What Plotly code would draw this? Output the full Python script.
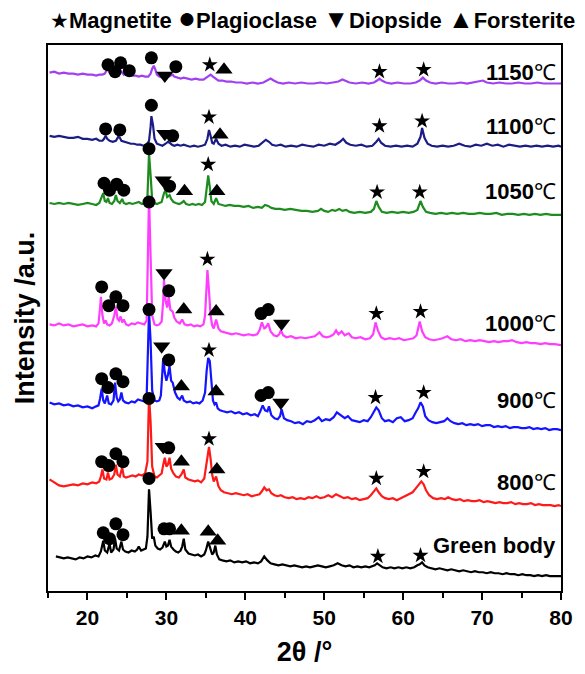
import plotly.graph_objects as go

# ---------------- data (2theta in degrees, relative intensity in a.u.) ----------------
samples = ["Green body", "800", "900", "1000", "1050", "1100", "1150"]
offsets = [14, 85, 162, 248, 380, 449, 513]          # stacking offsets (a.u.)
label_heights = [31, 24, 30, 22, 24, 20, 11]         # label height above offset
colors = ["#000000", "#FF1A1A", "#1414FF", "#FF3DFF", "#1E8C1E", "#1C1C85", "#A040F0"]

xrd_green_body = [(16.0,20),(16.5,19),(17.0,18),(17.5,19),(18.0,18),(18.5,17),(19.0,19),(19.5,18),(20.0,20),(20.5,19),(21.0,21),(21.4,20),(21.7,25),(22.0,36),(22.2,26),(22.5,24),(22.8,33),(23.0,24),(23.3,27),(23.5,38),(23.7,28),(24.0,26),(24.3,35),(24.5,27),(24.8,25),(25.2,24),(25.6,26),(26.0,25),(26.3,27),(26.5,30),(26.8,26),(27.1,27),(27.4,28),(27.6,40),(27.8,88),(28.0,65),(28.2,38),(28.4,40),(28.6,31),(28.9,28),(29.2,27),(29.5,29),(29.8,35),(30.0,30),(30.2,31),(30.4,37),(30.6,30),(30.9,27),(31.2,25),(31.5,24),(31.8,26),(32.0,30),(32.2,38),(32.4,27),(32.8,23),(33.2,22),(33.6,21),(34.0,22),(34.4,20),(34.8,22),(35.0,26),(35.3,35),(35.5,30),(35.8,22),(36.0,24),(36.2,31),(36.4,22),(36.7,17),(37.1,16),(37.6,15),(38.1,16),(38.6,14),(39.1,15),(39.6,14),(40.1,15),(40.6,13),(41.1,14),(41.6,13),(42.0,15),(42.4,20),(42.8,16),(43.2,13),(43.7,12),(44.2,11),(44.7,12),(45.2,11),(45.7,10),(46.2,11),(46.7,10),(47.2,9),(47.7,10),(48.2,9),(48.7,10),(49.2,11),(49.7,10),(50.2,9),(50.7,10),(51.2,11),(51.7,13),(52.2,11),(52.7,10),(53.2,11),(53.7,9),(54.2,10),(54.7,9),(55.2,10),(55.7,9),(56.1,10),(56.4,11),(56.7,13),(57.0,11),(57.4,9),(57.9,8),(58.4,9),(58.9,8),(59.4,9),(59.9,8),(60.4,9),(60.9,8),(61.4,9),(61.8,11),(62.1,12),(62.4,14),(62.7,11),(63.1,9),(63.6,8),(64.1,7),(64.6,8),(65.1,7),(65.6,6),(66.1,7),(66.6,6),(67.1,5),(67.6,6),(68.1,5),(68.6,4),(69.1,5),(69.6,4),(70.1,4),(70.6,3),(71.1,4),(71.6,3),(72.1,3),(72.6,2),(73.1,3),(73.6,2),(74.1,2),(74.6,1),(75.1,2),(75.6,1),(76.1,1),(76.6,0),(77.1,1),(77.6,0),(78.1,1),(78.6,0),(79.1,0),(79.6,0),(80.0,0)]

xrd_800 = [(15.2,27),(15.6,25),(16.0,23),(16.4,21),(17.0,20),(17.6,21),(18.2,22),(18.8,21),(19.4,23),(20.0,22),(20.6,24),(21.1,23),(21.5,25),(21.7,30),(21.9,37),(22.1,28),(22.4,27),(22.6,34),(22.8,27),(23.1,28),(23.4,32),(23.6,42),(23.8,32),(24.1,30),(24.4,39),(24.6,30),(24.9,29),(25.3,30),(25.7,31),(26.1,30),(26.5,32),(26.9,31),(27.3,33),(27.6,45),(27.8,112),(28.0,85),(28.2,40),(28.5,30),(28.8,29),(29.1,31),(29.4,33),(29.6,42),(29.8,49),(30.0,40),(30.2,42),(30.4,49),(30.6,38),(30.9,33),(31.2,30),(31.6,29),(31.9,32),(32.2,37),(32.4,29),(32.8,27),(33.2,26),(33.6,25),(34.0,26),(34.4,24),(34.8,28),(35.0,38),(35.2,52),(35.4,60),(35.6,48),(35.8,32),(36.0,25),(36.3,30),(36.6,20),(36.9,16),(37.3,14),(37.8,13),(38.3,12),(38.8,13),(39.3,12),(39.8,11),(40.3,12),(40.8,10),(41.3,11),(41.8,12),(42.1,15),(42.4,19),(42.7,16),(43.0,17),(43.3,13),(43.7,11),(44.1,10),(44.5,11),(45.0,9),(45.5,8),(46.0,9),(46.5,7),(47.0,8),(47.5,7),(48.0,9),(48.5,8),(49.0,10),(49.5,8),(50.0,9),(50.5,11),(51.0,9),(51.5,12),(52.0,10),(52.5,8),(53.0,9),(53.5,7),(54.0,8),(54.5,6),(55.0,7),(55.5,8),(55.9,11),(56.3,15),(56.6,18),(56.9,14),(57.3,10),(57.7,8),(58.2,7),(58.7,8),(59.2,6),(59.7,8),(60.2,10),(60.7,12),(61.2,14),(61.6,18),(62.0,22),(62.3,25),(62.6,22),(62.9,16),(63.3,11),(63.8,8),(64.3,7),(64.8,8),(65.3,7),(65.7,9),(66.2,7),(66.7,6),(67.2,7),(67.7,5),(68.2,6),(68.7,5),(69.2,5),(69.7,6),(70.2,4),(70.7,5),(71.2,4),(71.7,3),(72.2,4),(72.7,3),(73.2,3),(73.7,4),(74.2,2),(74.7,3),(75.2,2),(75.7,2),(76.2,3),(76.7,1),(77.2,2),(77.7,1),(78.2,1),(78.7,1),(79.2,0),(79.7,1),(80.0,0)]

xrd_900 = [(15.2,28),(15.8,26),(16.4,27),(17.0,25),(17.6,26),(18.2,24),(18.8,25),(19.4,23),(20.0,24),(20.6,22),(21.1,24),(21.4,25),(21.6,32),(21.8,42),(22.0,30),(22.2,27),(22.5,35),(22.7,27),(23.0,26),(23.3,30),(23.5,48),(23.7,33),(23.9,29),(24.1,31),(24.3,38),(24.5,30),(24.8,28),(25.2,27),(25.6,29),(26.0,28),(26.4,31),(26.8,30),(27.2,29),(27.5,34),(27.7,100),(27.8,120),(28.0,90),(28.2,40),(28.5,30),(28.8,29),(29.1,30),(29.3,35),(29.5,60),(29.6,73),(29.8,58),(30.0,50),(30.2,56),(30.4,65),(30.6,50),(30.8,48),(31.1,38),(31.4,33),(31.7,31),(32.0,35),(32.2,30),(32.6,28),(33.0,29),(33.4,27),(33.8,28),(34.2,27),(34.6,30),(34.9,38),(35.1,60),(35.3,73),(35.5,70),(35.7,45),(35.9,30),(36.1,26),(36.3,28),(36.5,22),(36.8,20),(37.2,19),(37.7,18),(38.2,19),(38.7,17),(39.2,18),(39.7,16),(40.2,17),(40.7,15),(41.2,16),(41.6,14),(41.9,19),(42.2,25),(42.5,20),(42.8,19),(43.0,24),(43.3,15),(43.7,12),(44.1,11),(44.4,14),(44.6,21),(44.9,12),(45.3,10),(45.8,9),(46.3,7),(46.8,8),(47.3,6),(47.8,9),(48.3,8),(48.8,10),(49.3,13),(49.7,9),(50.2,11),(50.7,10),(51.2,13),(51.6,18),(51.9,16),(52.2,14),(52.6,12),(53.0,14),(53.5,10),(54.0,9),(54.5,8),(55.0,10),(55.5,9),(55.9,13),(56.3,19),(56.6,23),(56.9,20),(57.3,12),(57.7,9),(58.2,10),(58.7,8),(59.2,12),(59.7,13),(60.2,9),(60.7,10),(61.2,12),(61.6,18),(61.9,22),(62.2,28),(62.5,24),(62.8,14),(63.2,10),(63.7,8),(64.2,7),(64.7,8),(65.2,9),(65.6,12),(66.0,9),(66.5,7),(67.0,6),(67.5,7),(68.0,5),(68.5,6),(69.0,5),(69.5,6),(70.0,4),(70.5,5),(71.0,5),(71.5,3),(72.0,4),(72.5,3),(73.0,4),(73.5,2),(74.0,3),(74.5,3),(75.0,2),(75.5,2),(76.0,3),(76.5,1),(77.0,2),(77.5,1),(78.0,2),(78.5,0),(79.0,1),(79.5,1),(80.0,0)]

xrd_1000 = [(15.2,21),(15.8,20),(16.4,22),(17.0,20),(17.6,21),(18.2,19),(18.8,20),(19.4,21),(20.0,19),(20.6,20),(21.1,19),(21.4,22),(21.6,38),(21.7,49),(21.9,30),(22.1,22),(22.3,25),(22.5,21),(22.8,20),(23.1,22),(23.4,30),(23.6,39),(23.8,27),(24.0,25),(24.2,29),(24.4,23),(24.6,26),(24.9,21),(25.2,20),(25.6,22),(26.0,21),(26.4,23),(26.8,22),(27.2,21),(27.5,25),(27.7,90),(27.8,151),(28.0,90),(28.2,30),(28.5,21),(28.8,20),(29.1,21),(29.4,24),(29.6,45),(29.7,66),(29.9,45),(30.1,38),(30.3,49),(30.5,36),(30.8,34),(31.0,28),(31.3,24),(31.7,22),(32.0,26),(32.3,21),(32.7,20),(33.1,21),(33.5,19),(33.9,20),(34.3,19),(34.7,21),(34.9,30),(35.1,60),(35.2,76),(35.4,55),(35.6,30),(35.8,20),(36.0,17),(36.3,26),(36.6,17),(36.9,14),(37.3,13),(37.8,12),(38.3,11),(38.8,12),(39.3,11),(39.8,10),(40.4,11),(41.0,10),(41.5,11),(41.8,15),(42.1,23),(42.4,17),(42.6,18),(42.9,22),(43.2,14),(43.6,10),(44.0,9),(44.3,11),(44.5,15),(44.8,10),(45.2,8),(45.8,9),(46.4,7),(47.0,8),(47.6,7),(48.2,8),(48.8,9),(49.4,13),(49.8,9),(50.3,8),(50.8,9),(51.2,11),(51.5,15),(51.8,11),(52.2,14),(52.6,10),(53.1,12),(53.5,8),(54.0,7),(54.6,8),(55.2,6),(55.8,7),(56.2,11),(56.5,23),(56.8,15),(57.2,8),(57.7,6),(58.3,7),(58.9,6),(59.5,7),(60.1,5),(60.7,6),(61.3,7),(61.7,10),(62.1,24),(62.4,14),(62.8,8),(63.3,6),(63.9,5),(64.5,6),(65.0,7),(65.6,9),(66.1,6),(66.7,5),(67.3,6),(67.9,4),(68.5,5),(69.1,4),(69.7,5),(70.3,4),(70.9,3),(71.5,4),(72.1,3),(72.7,4),(73.3,4),(73.8,5),(74.4,3),(75.0,2),(75.6,3),(76.2,2),(76.8,2),(77.4,1),(78.0,2),(78.6,1),(79.2,1),(80.0,0)]

xrd_1050 = [(15.2,12),(15.8,11),(16.4,12),(17.0,11),(17.6,12),(18.2,11),(18.8,10),(19.4,11),(20.0,12),(20.6,11),(21.1,10),(21.5,12),(21.8,17),(22.0,22),(22.2,14),(22.4,13),(22.6,17),(22.8,12),(23.1,11),(23.4,14),(23.6,20),(23.8,14),(24.1,12),(24.4,16),(24.6,12),(24.9,11),(25.3,12),(25.7,11),(26.1,12),(26.5,13),(26.9,11),(27.3,12),(27.6,18),(27.8,62),(28.0,40),(28.2,15),(28.5,12),(28.8,11),(29.1,12),(29.4,13),(29.7,22),(29.9,25),(30.1,18),(30.4,20),(30.6,16),(30.9,13),(31.2,12),(31.6,11),(31.9,12),(32.2,14),(32.5,11),(32.9,10),(33.3,11),(33.7,10),(34.1,11),(34.5,10),(34.9,13),(35.1,25),(35.3,40),(35.5,28),(35.7,14),(36.0,11),(36.3,17),(36.6,11),(37.0,10),(37.5,9),(38.0,10),(38.6,9),(39.2,9),(39.8,8),(40.4,9),(41.0,7),(41.6,8),(42.1,7),(42.5,10),(42.9,9),(43.3,7),(43.8,6),(44.4,6),(45.0,5),(45.7,6),(46.4,5),(47.1,4),(47.8,4),(48.5,3),(49.2,4),(49.6,6),(50.0,4),(50.5,3),(51.0,5),(51.4,4),(51.9,6),(52.3,4),(52.8,5),(53.2,3),(53.8,2),(54.5,3),(55.2,2),(55.9,3),(56.3,6),(56.6,14),(56.9,8),(57.3,3),(57.9,2),(58.6,3),(59.3,2),(60.0,3),(60.7,2),(61.3,3),(61.8,5),(62.2,14),(62.5,8),(62.9,3),(63.4,2),(64.1,1),(64.8,2),(65.5,1),(66.2,2),(66.9,1),(67.6,2),(68.3,1),(69.0,1),(69.7,2),(70.4,1),(71.1,1),(71.8,2),(72.5,0),(73.2,1),(73.9,1),(74.6,0),(75.3,1),(76.0,0),(76.7,1),(77.4,0),(78.1,1),(78.8,0),(79.5,0),(80.0,0)]

xrd_1100 = [(15.2,11),(15.8,10),(16.4,11),(17.0,10),(17.6,9),(18.2,9),(18.8,10),(19.4,8),(20.0,8),(20.6,7),(21.1,8),(21.5,6),(21.9,6),(22.1,8),(22.3,11),(22.5,8),(22.8,6),(23.2,5),(23.6,6),(23.9,10),(24.1,9),(24.3,6),(24.7,5),(25.1,4),(25.5,3),(25.9,3),(26.3,2),(26.7,2),(27.1,1),(27.5,2),(27.8,6),(28.0,20),(28.1,31),(28.3,22),(28.5,8),(28.8,3),(29.1,2),(29.5,1),(29.9,3),(30.2,5),(30.4,4),(30.7,2),(31.0,1),(31.4,2),(31.8,1),(32.2,2),(32.6,1),(33.0,0),(33.5,1),(34.0,0),(34.5,1),(34.9,2),(35.2,8),(35.4,17),(35.6,11),(35.8,4),(36.0,3),(36.3,8),(36.6,3),(37.0,1),(37.5,2),(38.1,0),(38.7,1),(39.3,0),(39.9,2),(40.5,1),(41.1,0),(41.7,1),(42.2,4),(42.6,7),(43.0,5),(43.4,2),(43.9,1),(44.5,2),(45.1,0),(45.8,1),(46.5,0),(47.2,2),(47.9,1),(48.6,0),(49.3,2),(50.0,1),(50.7,3),(51.4,2),(52.0,5),(52.4,8),(52.8,4),(53.3,2),(54.0,1),(54.7,2),(55.4,0),(56.1,1),(56.6,5),(56.9,8),(57.2,4),(57.7,1),(58.4,0),(59.1,1),(59.8,0),(60.5,1),(61.2,0),(61.8,3),(62.2,10),(62.4,19),(62.7,9),(63.1,3),(63.6,1),(64.3,0),(65.0,1),(65.7,0),(66.4,1),(67.1,3),(67.8,1),(68.5,0),(69.2,2),(69.9,1),(70.6,3),(71.3,1),(72.0,2),(72.7,0),(73.4,2),(74.1,1),(74.8,0),(75.5,1),(76.2,0),(76.9,1),(77.6,0),(78.3,1),(79.0,0),(79.7,1),(80.0,0)]

xrd_1150 = [(15.2,11),(15.8,12),(16.4,10),(17.0,11),(17.6,10),(18.2,10),(18.8,9),(19.4,10),(20.0,9),(20.6,9),(21.1,8),(21.5,9),(21.9,9),(22.2,10),(22.4,13),(22.6,15),(22.8,11),(23.0,10),(23.2,12),(23.4,11),(23.7,12),(23.9,14),(24.1,11),(24.3,12),(24.6,9),(24.8,11),(25.0,12),(25.3,9),(25.7,8),(26.1,8),(26.5,7),(26.9,8),(27.3,7),(27.7,7),(28.0,10),(28.2,15),(28.4,18),(28.6,14),(28.8,9),(29.1,7),(29.5,6),(29.9,6),(30.3,7),(30.6,8),(30.8,9),(31.0,7),(31.4,6),(31.8,5),(32.2,6),(32.7,5),(33.2,4),(33.7,5),(34.2,4),(34.7,4),(35.1,6),(35.4,8),(35.6,9),(35.9,7),(36.2,5),(36.6,3),(37.1,3),(37.6,2),(38.2,2),(38.8,1),(39.5,1),(40.2,0),(40.9,1),(41.6,0),(42.3,1),(42.8,3),(43.2,5),(43.6,3),(44.1,1),(44.8,0),(45.5,1),(46.3,0),(47.1,1),(47.9,0),(48.7,0),(49.5,1),(50.3,0),(51.1,1),(51.8,2),(52.3,4),(52.7,3),(53.2,1),(54.0,0),(54.8,1),(55.6,0),(56.3,1),(56.7,3),(57.0,5),(57.3,3),(57.8,1),(58.5,0),(59.3,1),(60.1,0),(60.9,0),(61.6,1),(62.1,3),(62.5,6),(62.9,3),(63.4,1),(64.1,0),(64.9,1),(65.7,0),(66.5,0),(67.3,1),(68.1,0),(68.9,1),(69.6,2),(70.1,3),(70.6,1),(71.4,0),(72.2,1),(73.0,0),(73.8,0),(74.6,1),(75.4,0),(76.2,0),(77.0,1),(77.8,0),(78.6,0),(79.4,0),(80.0,0)]

patterns = [xrd_green_body, xrd_800, xrd_900, xrd_1000, xrd_1050, xrd_1100, xrd_1150]

# phase identification marks: (phase, 2theta, height above offset)
marks_green_body = [("P",22.0,44),("P",22.8,38),("P",23.6,53),("P",24.5,42),("P",27.8,99),("P",29.7,48),("P",30.4,48),
                    ("F",31.9,46),("F",35.3,45),("F",36.5,36),("M",56.8,20),("M",62.2,21)]
marks_800 = [("P",21.8,45),("P",22.7,41),("P",23.6,53),("P",24.5,45),("P",27.8,109),("D",29.6,60),("P",30.3,59),
             ("F",31.9,45),("M",35.4,68),("F",36.4,37),("M",56.6,28),("M",62.6,35)]
marks_900 = [("P",21.8,52),("P",22.6,43),("P",23.6,57),("P",24.5,49),("P",27.8,122),("D",29.4,85),("P",30.3,71),
             ("F",31.9,44),("M",35.4,81),("F",36.3,39),("P",42.0,35),("P",42.9,38),("D",44.5,28),("M",56.5,33),("M",62.6,38)]
marks_1000 = [("P",21.8,59),("P",22.7,40),("P",23.6,49),("P",24.5,40),("P",27.8,145),("D",29.7,73),("P",30.3,55),
              ("F",32.2,36),("M",35.2,87),("F",36.3,34),("P",42.0,32),("P",42.9,36),("D",44.6,22),("M",56.6,32),("M",62.2,34)]
marks_1050 = [("P",22.1,32),("P",22.8,25),("P",23.7,31),("P",24.6,25),("P",27.8,67),("D",29.6,35),("P",30.4,29),
              ("F",32.3,24),("M",35.3,51),("F",36.4,24),("M",56.7,23),("M",62.1,23)]
marks_1100 = [("P",22.3,18),("P",24.1,17),("P",28.1,42),("D",29.8,13),("P",30.8,11),("M",35.4,30),("F",36.8,12),
              ("M",57.0,21),("M",62.4,26)]
marks_1150 = [("P",22.6,19),("P",23.5,12),("P",24.2,21),("P",25.3,13),("P",28.1,26),("D",29.8,8),("P",31.2,17),
              ("M",35.5,19),("F",37.3,14),("M",57.0,12),("M",62.6,14)]
marks = [marks_green_body, marks_800, marks_900, marks_1000, marks_1050, marks_1100, marks_1150]

phases = {"M": ("Magnetite", "star", 12), "P": ("Plagioclase", "circle", 13),
          "D": ("Diopside", "triangle-down", 15), "F": ("Forsterite", "triangle-up", 15)}

FONT = "Liberation Sans, Arial, sans-serif"

fig = go.Figure()
for name, pat, off, col in zip(samples, patterns, offsets, colors):
    fig.add_trace(go.Scatter(x=[p[0] for p in pat], y=[p[1] + off for p in pat],
                             mode="lines", line=dict(color=col, width=2.2), name=name,
                             showlegend=False, hoverinfo="skip"))

for key, (pname, sym, size) in phases.items():
    xs, ys = [], []
    for mk, off in zip(marks, offsets):
        for ph, tt, h in mk:
            if ph == key:
                xs.append(tt)
                ys.append(h + off)
    fig.add_trace(go.Scatter(x=xs, y=ys, mode="markers", name=pname, showlegend=False,
                             marker=dict(symbol=sym, size=size, color="black", line=dict(width=0))))

# sample labels
for name, off, lh in zip(samples, offsets, label_heights):
    txt = "<b>Green body</b>" if name == "Green body" else "<b>%s</b>℃" % name
    fig.add_annotation(x=80, y=off + lh, xref="x", yref="y", text=txt, showarrow=False,
                       xanchor="right", yanchor="middle", xshift=-3,
                       font=dict(family=FONT, size=22, color="black"))

# phase key at top
key_txt = ("<span style='font-size:21px'>★</span><b>Magnetite</b> "
           "<span style='font-size:30px'>●</span><b>Plagioclase</b> "
           "<span style='font-size:26px'>▼</span><b>Diopside</b> "
           "<span style='font-size:26px'>▲</span><b>Forsterite</b>")
fig.add_annotation(x=0.5, y=1, xref="paper", yref="paper", yanchor="middle", xanchor="center",
                   xshift=8, yshift=28, text=key_txt, showarrow=False,
                   font=dict(family=FONT, size=22, color="black"))

fig.update_layout(
    width=585, height=674, margin=dict(l=48, r=16, t=45, b=76),
    paper_bgcolor="white", plot_bgcolor="white",
    font=dict(family=FONT, color="black"),
    xaxis=dict(range=[15, 80], tickvals=[20, 30, 40, 50, 60, 70, 80],
               ticktext=["<b>%d</b>" % v for v in [20, 30, 40, 50, 60, 70, 80]],
               ticks="outside", ticklen=7, tickwidth=2, tickcolor="black",
               minor=dict(tickvals=[15, 25, 35, 45, 55, 65, 75], ticks="outside", ticklen=5,
                          tickwidth=2, tickcolor="black"),
               showline=True, linecolor="black", linewidth=2, mirror=True,
               showgrid=False, zeroline=False,
               tickfont=dict(family=FONT, size=21, color="black"),
               title=dict(text="<b>2θ /°</b>", font=dict(family=FONT, size=27, color="black"), standoff=14)),
    yaxis=dict(range=[-1, 552], showticklabels=False, ticks="",
               showline=True, linecolor="black", linewidth=2, mirror=True,
               showgrid=False, zeroline=False,
               title=dict(text="<b>Intensity /a.u.</b>", font=dict(family=FONT, size=27, color="black"), standoff=4)),
)

fig.write_html("out.html")
